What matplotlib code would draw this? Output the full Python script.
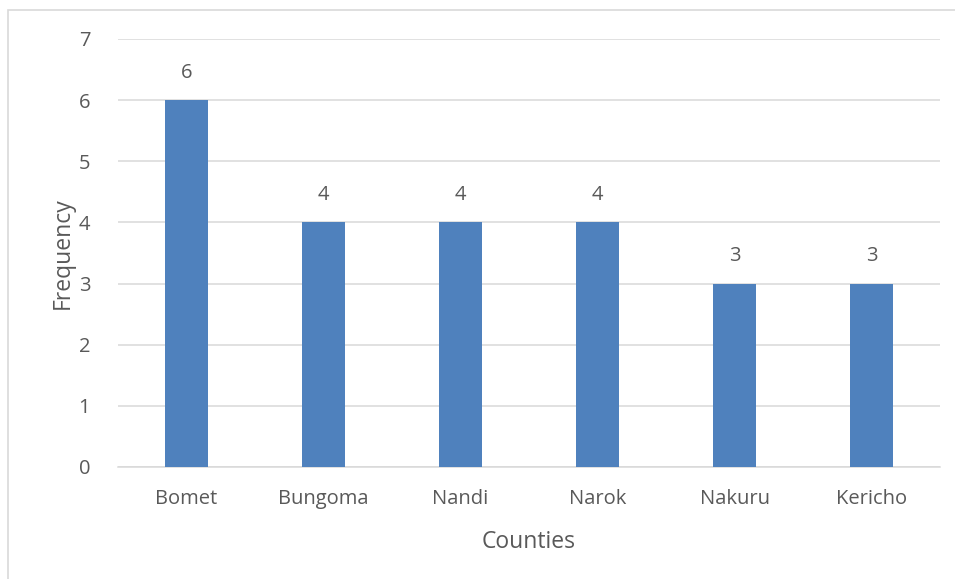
import matplotlib
matplotlib.use("Agg")
import matplotlib.pyplot as plt
from matplotlib.patches import Rectangle

counties = ["Bomet", "Bungoma", "Nandi", "Narok", "Nakuru", "Kericho"]
frequency = [6, 4, 4, 4, 3, 3]
yticks = [0, 1, 2, 3, 4, 5, 6, 7]

plt.rcParams['font.family'] = ['Open Sans', 'DejaVu Sans']
txt = '#595959'

fig = plt.figure(figsize=(9.55, 5.79), dpi=100)
fig.patches.append(Rectangle((8/955, -0.1), 1.2, 1 - 10/579 + 0.1, transform=fig.transFigure,
                             fill=False, edgecolor='#d9d9d9', linewidth=1.2))
ax = fig.add_axes([118/955, 1 - 467/579, 822/955, 428/579])

x = list(range(len(counties)))
bars = ax.bar(x, frequency, width=0.315, color='#4f81bd', zorder=3)
for xi, v in zip(x, frequency):
    ax.text(xi, v + 0.28, str(v), ha='center', va='bottom', fontsize=14.5, color=txt)

ax.set_xlim(-0.5, len(counties) - 0.5)
ax.set_ylim(0, 7)
ax.set_yticks(yticks)
ax.set_xticks(x)
ax.set_xticklabels(counties)
ax.tick_params(axis='both', length=0, labelsize=14.5, colors=txt)
ax.tick_params(axis='y', pad=20)
ax.tick_params(axis='x', pad=16)
ax.grid(axis='y', color='#d9d9d9', linewidth=1.1, zorder=0)
for s in ['top', 'right', 'left']:
    ax.spines[s].set_visible(False)
ax.spines['bottom'].set_color('#d9d9d9')
ax.spines['bottom'].set_linewidth(1.1)
ax.set_xlabel('Counties', fontsize=16.5, color=txt, labelpad=15)
ax.set_ylabel('Frequency', fontsize=16.5, color=txt, labelpad=3)

fig.savefig('out.png', dpi=100)
